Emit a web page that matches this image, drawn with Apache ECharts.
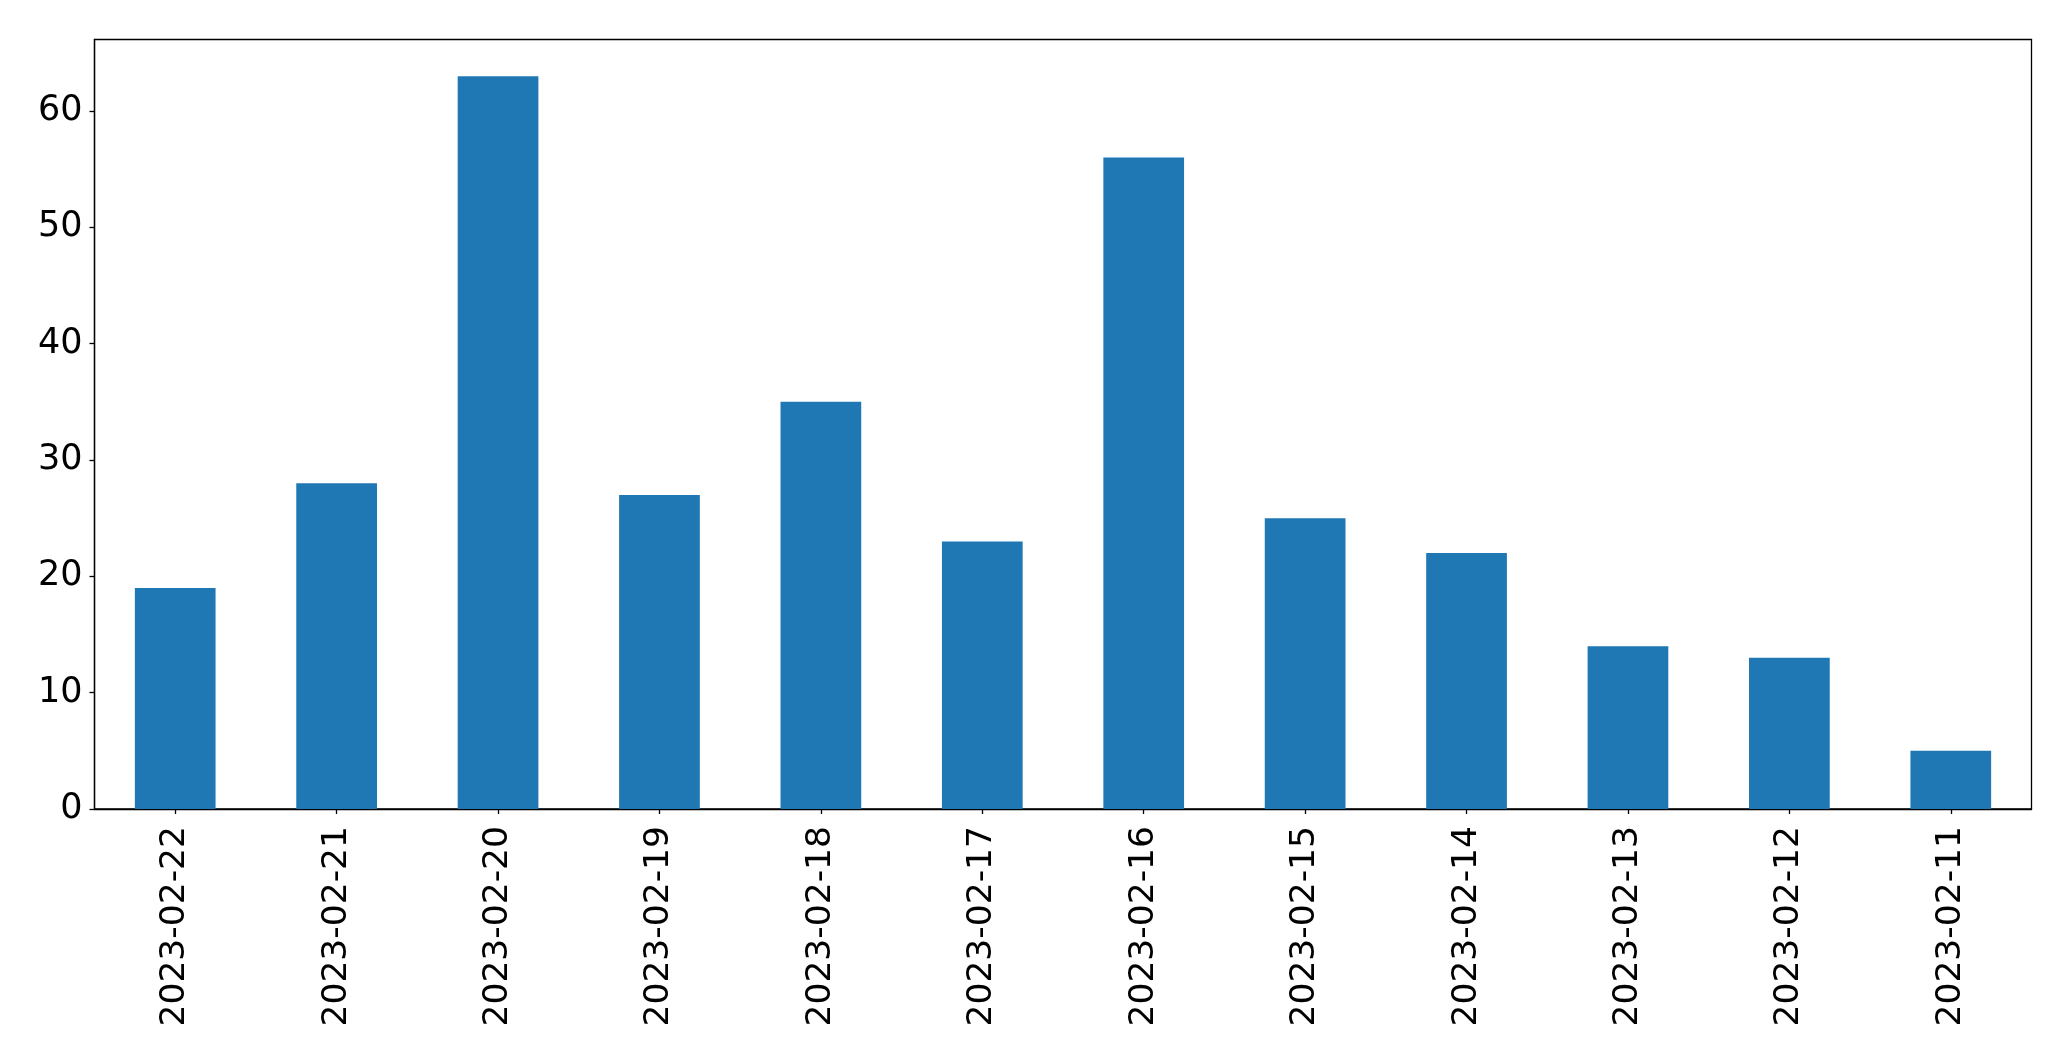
<!DOCTYPE html>
<html>
<head>
<meta charset="utf-8">
<script src="https://cdn.jsdelivr.net/npm/echarts@6/dist/echarts.min.js"></script>
<style>
html,body{margin:0;padding:0;background:#fff;}
#chart{width:2071px;height:1061px;}
</style>
</head>
<body>
<div id="chart"></div>
<script>
const categories = ["2023-02-22","2023-02-21","2023-02-20","2023-02-19","2023-02-18","2023-02-17","2023-02-16","2023-02-15","2023-02-14","2023-02-13","2023-02-12","2023-02-11"];
const values = [19, 28, 63, 27, 35, 23, 56, 25, 22, 14, 13, 5];
const yTicks = [0, 10, 20, 30, 40, 50, 60];

const font = "DejaVu Sans";
const chart = echarts.init(document.getElementById('chart'), null, {renderer: 'canvas'});
chart.setOption({
  animation: false,
  backgroundColor: '#ffffff',
  grid: {
    left: 94.5, right: 39.5, top: 39.5, bottom: 252,
    show: true, borderColor: '#000', borderWidth: 1.3, backgroundColor: 'transparent'
  },
  xAxis: {
    type: 'category',
    data: categories,
    boundaryGap: true,
    axisLine: {show: true, lineStyle: {color: '#000', width: 1.3}},
    axisTick: {show: true, alignWithLabel: true, length: 5, lineStyle: {color: '#000', width: 1.3}},
    axisLabel: {rotate: 90, margin: 17, color: '#000', fontFamily: font, fontSize: 34.5, interval: 0},
    splitLine: {show: false}
  },
  yAxis: {
    type: 'value',
    min: 0, max: 66.15, interval: 10,
    axisLine: {show: true, lineStyle: {color: '#000', width: 1.3}},
    axisTick: {show: true, length: 5, customValues: yTicks, lineStyle: {color: '#000', width: 1.3}},
    axisLabel: {
      margin: 12, color: '#000', fontFamily: font, fontSize: 35,
      customValues: yTicks,
      formatter: function (v) { return yTicks.indexOf(v) >= 0 ? String(v) : ''; }
    },
    splitLine: {show: false}
  },
  series: [{
    type: 'bar',
    data: values,
    barWidth: '50%',
    itemStyle: {color: '#1f77b4'}
  }]
});
</script>
</body>
</html>
